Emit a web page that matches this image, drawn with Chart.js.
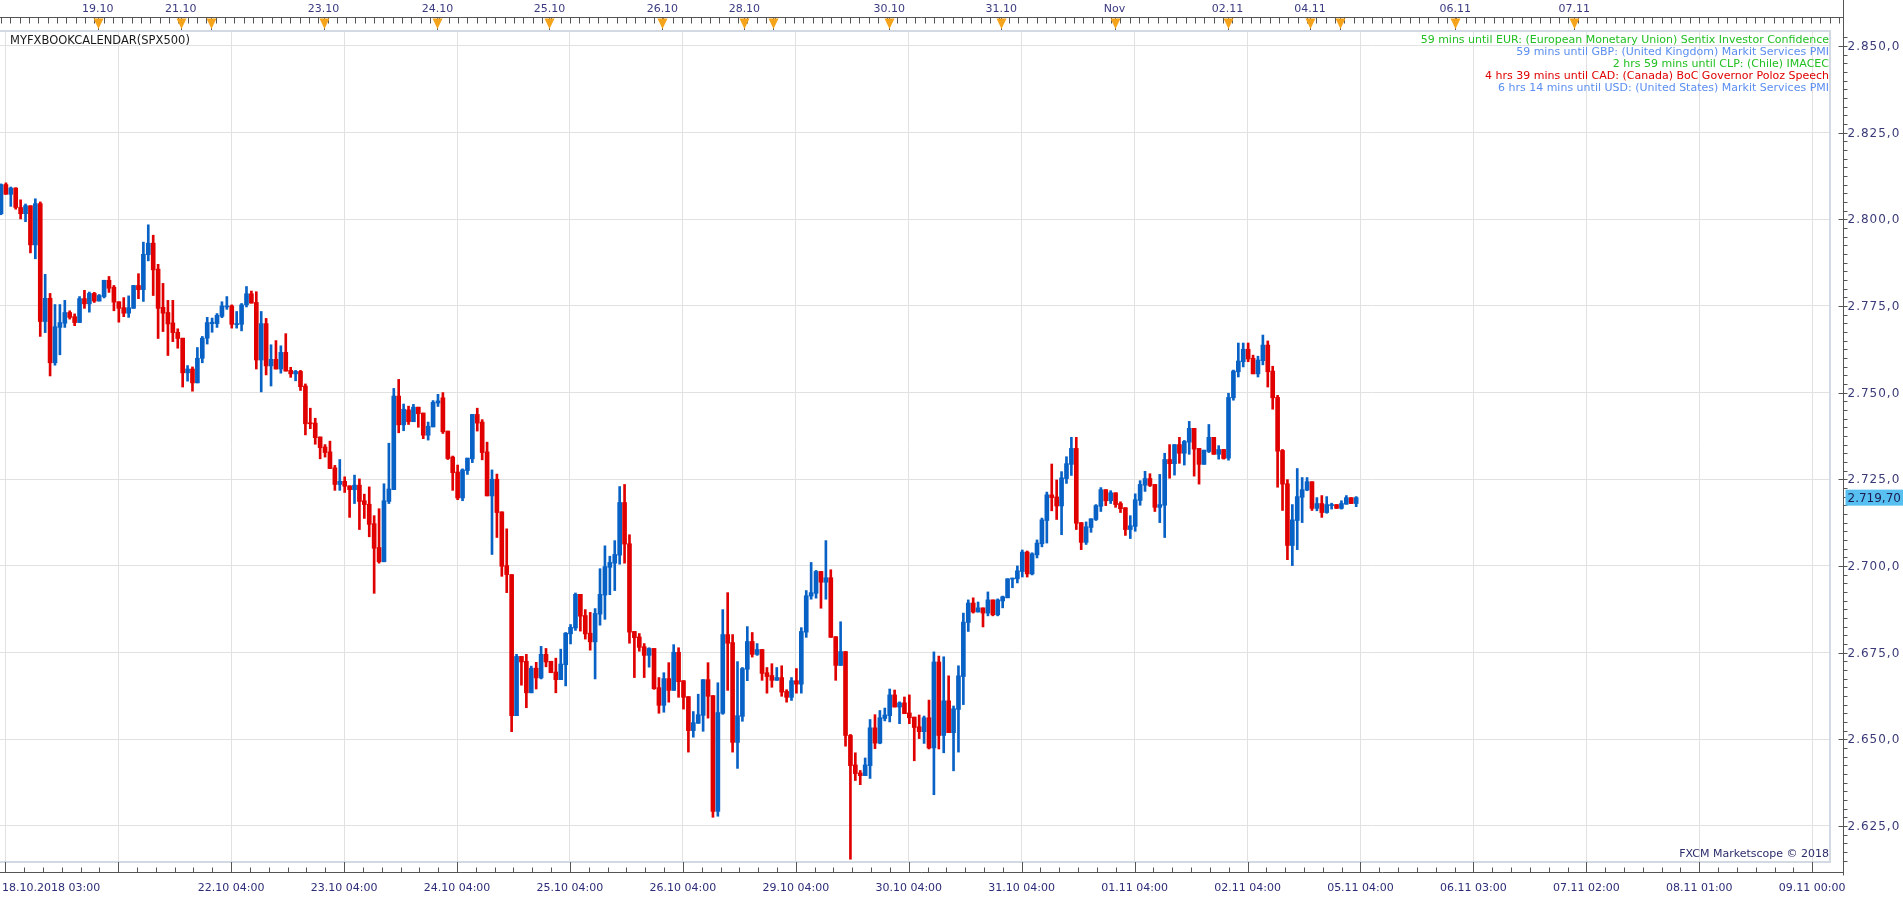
<!DOCTYPE html>
<html>
<head>
<meta charset="utf-8">
<title>SPX500 H1</title>
<script src="https://cdn.jsdelivr.net/npm/chart.js@4.4.1/dist/chart.umd.min.js"></script>
<style>
  html, body { margin: 0; padding: 0; background: #ffffff; }
  canvas { display: block; }
</style>
</head>
<body>
<canvas id="chart" width="1903" height="900"></canvas>
<script>
// hourly candles, SPX500, 18.10.2018 -> 05.11.2018
const opens = [2801.6,2810.0,2807.2,2809.0,2803.4,2801.6,2803.9,2792.6,2804.5,2770.5,2777.2,2758.6,2768.8,2770.0,2773.1,2771.9,2770.2,2777.1,2775.6,2778.6,
  2776.4,2777.7,2782.4,2780.4,2776.2,2774.5,2772.9,2774.3,2780.9,2779.7,2789.8,2793.1,2785.6,2774.6,2773.1,2770.1,2767.4,2765.7,2755.7,2756.8,
  2752.8,2759.9,2765.7,2769.9,2769.9,2772.0,2774.7,2775.0,2769.6,2769.7,2775.3,2778.5,2776.0,2759.4,2769.9,2757.7,2759.6,2756.8,2761.6,2756.4,
  2755.4,2756.1,2751.9,2741.3,2741.2,2737.2,2734.3,2732.9,2728.3,2723.5,2724.4,2723.1,2722.0,2723.3,2718.8,2717.8,2712.2,2705.3,2701.2,2718.6,
  2722.0,2749.0,2740.7,2745.0,2741.6,2745.8,2744.1,2737.7,2740.1,2747.0,2748.5,2738.9,2731.4,2727.1,2719.6,2727.5,2730.9,2743.7,2741.5,2732.9,
  2720.2,2725.0,2715.6,2700.1,2697.5,2656.8,2673.9,2672.5,2663.4,2670.5,2667.7,2674.5,2672.5,2669.4,2667.2,2671.5,2680.4,2682.1,2691.8,2685.7,
  2680.6,2678.1,2686.1,2691.6,2699.6,2700.8,2703.1,2718.3,2706.4,2681.1,2679.5,2676.7,2674.2,2676.2,2664.9,2659.8,2667.5,2664.1,2675.1,2666.9,
  2662.3,2652.5,2654.6,2656.9,2667.2,2662.6,2629.2,2657.5,2680.2,2677.9,2649.1,2656.6,2670.2,2678.2,2674.5,2675.9,2669.2,2668.4,2667.0,2667.8,
  2663.8,2662.1,2666.9,2665.9,2680.9,2691.3,2692.1,2698.4,2695.3,2696.6,2679.6,2671.3,2675.3,2651.1,2642.6,2640.3,2639.5,2642.4,2653.3,2648.9,
  2656.0,2656.8,2662.8,2659.3,2660.5,2657.6,2656.4,2653.6,2652.2,2656.2,2647.5,2672.3,2651.1,2661.1,2651.9,2658.6,2668.1,2683.7,2689.3,2686.7,
  2687.9,2686.4,2690.2,2685.9,2689.9,2690.8,2696.2,2696.3,2698.4,2704.0,2697.7,2703.2,2706.4,2713.1,2720.5,2719.9,2717.3,2725.2,2729.3,2733.9,
  2712.5,2706.8,2711.1,2713.4,2717.2,2722.0,2718.8,2721.1,2718.0,2716.8,2710.5,2711.4,2718.9,2723.3,2725.2,2723.5,2716.9,2717.5,2730.7,2729.5,
  2735.0,2732.5,2735.7,2739.7,2733.9,2729.3,2733.0,2737.1,2732.2,2733.6,2731.1,2748.5,2756.0,2758.9,2762.5,2759.9,2755.4,2759.2,2763.7,2756.2,
  2748.6,2733.3,2723.7,2705.9,2713.1,2719.8,2721.9,2724.3,2716.6,2718.0,2715.4,2717.4,2717.7,2716.6,2717.8,2719.7,2718.0];
const highs = [2810.2,2810.5,2809.3,2809.1,2805.6,2804.4,2803.9,2805.9,2805.0,2784.1,2778.6,2775.4,2775.4,2776.6,2773.6,2772.7,2777.7,2779.5,2779.0,2778.9,
  2778.3,2782.4,2783.5,2780.9,2776.2,2777.4,2777.9,2780.9,2784.3,2793.4,2798.4,2795.4,2787.0,2781.5,2776.6,2776.6,2768.4,2765.7,2757.8,2757.4,
  2763.0,2766.2,2771.7,2771.5,2772.8,2776.2,2777.7,2775.3,2773.4,2775.7,2780.6,2779.3,2779.1,2773.4,2771.4,2763.8,2765.0,2763.5,2767.0,2757.3,
  2756.4,2756.4,2752.5,2745.5,2742.6,2737.2,2735.0,2736.0,2729.0,2730.7,2725.7,2723.1,2726.2,2725.1,2720.7,2722.8,2714.5,2716.5,2723.7,2735.4,
  2751.2,2753.8,2746.7,2746.1,2746.6,2745.8,2744.1,2741.5,2747.7,2749.5,2750.0,2738.9,2731.7,2729.1,2728.0,2731.1,2743.7,2745.5,2742.2,2735.7,
  2727.7,2726.5,2715.6,2710.7,2697.5,2674.5,2673.9,2674.5,2671.1,2672.2,2676.8,2676.2,2672.5,2673.4,2676.0,2680.8,2683.1,2692.2,2691.8,2687.4,
  2686.6,2687.7,2699.2,2705.8,2702.8,2707.3,2722.9,2723.5,2709.0,2681.1,2680.5,2677.6,2676.4,2676.2,2667.8,2669.2,2672.1,2677.3,2676.4,2666.9,
  2662.3,2658.0,2663.0,2667.2,2672.1,2662.6,2666.3,2687.4,2692.3,2680.2,2672.4,2670.7,2682.5,2680.8,2677.6,2675.9,2670.7,2671.8,2670.7,2671.2,
  2664.3,2667.8,2670.4,2682.2,2692.9,2701.0,2698.7,2698.4,2707.3,2698.9,2679.6,2683.9,2675.3,2651.4,2646.1,2641.0,2644.6,2655.7,2657.1,2658.3,
  2659.0,2664.5,2664.2,2660.8,2662.2,2662.8,2656.4,2657.0,2656.7,2661.3,2675.2,2674.0,2673.8,2668.3,2659.6,2671.2,2686.4,2690.2,2690.8,2689.6,
  2687.9,2692.5,2690.2,2690.5,2691.3,2696.3,2696.5,2700.0,2704.6,2704.3,2703.8,2707.5,2713.8,2721.3,2729.4,2724.8,2727.2,2731.5,2737.1,2737.1,
  2712.5,2712.7,2713.6,2717.7,2722.6,2722.0,2721.7,2721.1,2718.5,2716.8,2714.5,2720.8,2724.6,2727.3,2726.6,2723.5,2726.4,2732.5,2735.0,2735.0,
  2737.1,2736.2,2741.7,2739.7,2733.9,2733.4,2740.8,2737.1,2734.7,2733.6,2749.8,2756.5,2764.3,2764.3,2764.3,2760.8,2760.5,2766.6,2764.9,2757.6,
  2749.2,2733.6,2724.9,2717.7,2728.1,2725.5,2725.5,2724.3,2719.7,2720.3,2720.0,2718.1,2717.7,2718.8,2720.3,2719.7,2720.0];
const lows = [2801.3,2807.2,2803.7,2802.9,2800.1,2799.3,2790.3,2788.6,2766.2,2767.3,2754.8,2757.9,2760.9,2768.8,2771.2,2769.3,2770.2,2774.3,2773.2,2776.0,
  2776.4,2777.3,2778.9,2773.6,2770.3,2771.9,2771.7,2774.3,2777.1,2776.3,2788.0,2778.0,2765.6,2767.6,2760.7,2764.7,2762.8,2751.6,2753.3,2750.4,
  2752.8,2758.6,2764.0,2767.4,2768.8,2771.6,2774.0,2768.6,2768.6,2767.8,2774.7,2775.8,2756.8,2750.2,2755.1,2751.9,2756.8,2755.6,2756.2,2754.4,
  2753.4,2750.6,2737.8,2739.6,2735.1,2730.9,2731.4,2728.1,2721.8,2721.8,2721.2,2714.0,2718.0,2710.5,2713.7,2708.4,2692.1,2700.8,2701.2,2718.0,
  2722.0,2738.4,2739.0,2740.8,2741.6,2740.0,2736.7,2736.3,2740.1,2746.0,2738.2,2730.7,2721.8,2719.1,2718.8,2726.4,2729.8,2738.9,2730.6,2720.2,
  2703.3,2708.2,2697.0,2692.3,2652.2,2656.8,2665.6,2659.1,2663.4,2664.5,2667.4,2670.9,2669.2,2663.4,2667.2,2665.4,2677.5,2681.4,2681.2,2678.9,
  2675.7,2667.4,2682.9,2684.6,2691.7,2692.9,2700.5,2700.8,2677.7,2667.8,2675.4,2667.8,2670.8,2664.4,2657.5,2657.8,2660.7,2664.1,2662.1,2658.7,
  2646.3,2650.6,2654.6,2652.3,2656.1,2627.5,2627.8,2657.2,2664.1,2646.3,2641.6,2655.2,2666.9,2673.7,2674.2,2667.0,2663.3,2665.0,2667.0,2662.4,
  2660.7,2661.2,2663.3,2663.3,2679.4,2690.4,2690.7,2687.8,2690.4,2679.4,2667.0,2671.3,2648.0,2615.4,2638.1,2636.9,2639.5,2638.7,2647.3,2648.7,
  2655.3,2655.0,2659.3,2654.5,2657.4,2654.5,2643.8,2650.2,2648.8,2647.2,2634.0,2647.2,2646.1,2651.9,2640.9,2646.3,2660.0,2681.1,2686.4,2686.7,
  2682.4,2685.6,2685.6,2685.6,2687.9,2690.8,2693.7,2695.1,2696.8,2696.8,2697.4,2702.3,2705.5,2706.6,2715.9,2713.4,2709.0,2723.8,2726.1,2710.5,
  2704.7,2706.2,2709.7,2713.1,2715.7,2717.4,2718.0,2716.9,2715.4,2708.8,2707.9,2710.0,2717.5,2721.5,2722.9,2715.7,2712.5,2708.2,2725.3,2726.2,
  2729.6,2729.1,2732.2,2725.9,2723.6,2729.3,2732.7,2732.2,2730.8,2730.8,2730.5,2747.8,2754.5,2757.4,2758.9,2755.4,2754.5,2758.0,2751.6,2745.2,
  2722.7,2716.0,2701.8,2700.1,2704.7,2712.5,2721.7,2716.0,2715.9,2714.0,2715.2,2716.4,2716.6,2716.4,2717.8,2718.0,2717.1];
const closes = [2810.0,2807.2,2809.0,2803.4,2801.6,2803.9,2792.6,2804.5,2770.5,2777.2,2758.6,2769.0,2770.2,2773.1,2771.7,2770.2,2777.1,2775.6,2778.6,2776.4,
  2778.0,2782.4,2780.1,2776.1,2774.3,2772.9,2774.5,2780.9,2779.7,2789.9,2793.1,2785.4,2774.3,2772.9,2769.8,2767.3,2765.6,2755.7,2756.8,2752.8,
  2759.9,2765.7,2770.2,2770.3,2772.3,2775.0,2775.0,2769.7,2769.9,2775.3,2778.5,2775.8,2759.4,2769.9,2757.7,2759.6,2756.8,2761.6,2756.2,2755.4,
  2756.1,2751.7,2741.0,2741.0,2737.0,2734.1,2732.7,2728.1,2723.5,2724.4,2723.0,2722.0,2723.3,2718.6,2717.7,2712.0,2705.1,2701.2,2718.8,2722.2,
  2749.0,2740.7,2745.2,2741.6,2745.8,2743.9,2737.7,2740.3,2747.2,2747.6,2738.7,2731.0,2726.9,2719.6,2727.7,2731.1,2743.7,2741.2,2732.7,2720.2,
  2725.0,2715.4,2699.9,2697.5,2656.8,2673.9,2672.3,2663.4,2670.5,2667.7,2674.5,2672.3,2669.2,2667.2,2671.7,2680.6,2682.3,2691.8,2685.5,2680.4,
  2678.1,2686.3,2691.8,2699.8,2701.0,2703.3,2718.3,2706.3,2680.9,2679.3,2676.5,2674.2,2676.2,2664.6,2659.8,2667.5,2664.1,2675.1,2666.6,2662.1,
  2652.5,2654.8,2657.1,2667.2,2662.4,2629.2,2657.7,2680.2,2677.7,2649.1,2656.8,2670.4,2678.2,2674.5,2675.9,2669.0,2668.1,2667.0,2667.8,2663.6,
  2662.1,2666.9,2665.9,2681.1,2691.4,2692.3,2698.4,2695.3,2696.6,2679.4,2671.3,2675.3,2651.1,2642.4,2640.1,2639.5,2642.6,2653.3,2648.9,2656.2,
  2657.0,2662.8,2659.3,2660.5,2657.4,2656.2,2653.4,2652.2,2656.2,2647.5,2672.3,2651.1,2661.1,2651.9,2658.8,2668.3,2683.8,2689.3,2686.7,2687.9,
  2686.4,2690.2,2685.9,2690.2,2691.1,2696.3,2696.5,2698.6,2704.0,2697.7,2703.5,2706.6,2713.3,2720.5,2719.7,2717.3,2725.4,2729.5,2733.9,2712.3,
  2706.8,2711.3,2713.6,2717.4,2722.0,2718.8,2721.1,2717.7,2716.5,2710.5,2711.6,2719.1,2723.5,2725.2,2723.2,2716.9,2717.7,2730.7,2729.5,2735.0,
  2732.5,2735.9,2739.7,2733.7,2729.3,2733.4,2737.1,2732.2,2733.6,2731.0,2748.6,2756.2,2759.1,2762.5,2759.7,2755.4,2759.4,2763.7,2756.0,2748.5,
  2733.1,2723.6,2705.9,2713.3,2720.0,2722.0,2724.3,2716.6,2718.0,2715.4,2717.7,2717.7,2716.6,2718.0,2719.7,2718.0,2719.7];

// day separators (in candle index units) and their bottom labels
const dayLines = [0.875, 23.875, 46.875, 69.875, 92.875, 115.875, 138.875, 161.875, 184.875, 207.875, 230.875, 253.875, 276.875, 299.875, 322.875, 345.875, 368.875];
const dayLabels = ['18.10.2018 03:00', '', '22.10 04:00', '23.10 04:00', '24.10 04:00', '25.10 04:00', '26.10 04:00', '29.10 04:00',
  '30.10 04:00', '31.10 04:00', '01.11 04:00', '02.11 04:00', '05.11 04:00', '06.11 03:00', '07.11 02:00', '08.11 01:00', '09.11 00:00'];

// calendar event markers on the top strip
const eventPos = [19.7, 36.6, 42.7, 65.7, 88.9, 111.7, 134.7, 151.4, 157.3, 180.9, 203.7, 226.8, 249.8, 266.6, 272.7, 296.2, 320.4];
const eventLabels = ['19.10', '21.10', '', '23.10', '24.10', '25.10', '26.10', '28.10', '', '30.10', '31.10', 'Nov', '02.11', '04.11', '', '06.11', '07.11'];

const upcoming = [
  ['59 mins until EUR: (European Monetary Union) Sentix Investor Confidence', '#22c022'],
  ['59 mins until GBP: (United Kingdom) Markit Services PMI', '#5b8ef0'],
  ['2 hrs 59 mins until CLP: (Chile) IMACEC', '#22c022'],
  ['4 hrs 39 mins until CAD: (Canada) BoC Governor Poloz Speech', '#e00000'],
  ['6 hrs 14 mins until USD: (United States) Markit Services PMI', '#5b8ef0']
];

const priceTicks = [2625, 2650, 2675, 2700, 2725, 2750, 2775, 2800, 2825, 2850];

const UP = '#0862c6';
const DOWN = '#e00000';
const FONT = '"DejaVu Sans", Verdana, sans-serif';

function candleColor(ctx) {
    const i = ctx.dataIndex;
    return closes[i] >= opens[i] ? UP : DOWN;
}

function fmtPrice(v, digits) {
    const th = Math.floor(v / 1000);
    const rest = (v - th * 1000).toFixed(digits).padStart(4 + digits, '0');
    return th + '.' + rest.replace('.', ',');
}

const axesPlugin = {
    id: 'axesPlugin',
    afterDraw(chart) {
        const ctx = chart.ctx;
        const xs = chart.scales.x;
        const ys = chart.scales.y;
        const a = chart.chartArea;
        const axisX = 1843.5;
        const bottomY = 872.5;
        const topY = 17.5;

        ctx.save();

        // light frame round the plot
        ctx.strokeStyle = '#d2d9e2';
        ctx.lineWidth = 2;
        ctx.beginPath();
        ctx.moveTo(0, a.top);
        ctx.lineTo(a.right, a.top);
        ctx.lineTo(a.right, a.bottom);
        ctx.lineTo(0, a.bottom);
        ctx.stroke();

        // right price axis
        ctx.strokeStyle = '#555555';
        ctx.lineWidth = 1;
        ctx.beginPath();
        ctx.moveTo(axisX, 0);
        ctx.lineTo(axisX, bottomY + 3);
        for (let v = 2615; v <= 2852.5; v += 2.5) {
            const y = Math.round(ys.getPixelForValue(v)) + 0.5;
            if (y < a.top - 25 || y > a.bottom) continue;
            const major = Math.abs(v % 25) < 0.01;
            ctx.moveTo(major ? axisX - 5 : axisX, y);
            ctx.lineTo(axisX + 4, y);
        }
        ctx.stroke();

        ctx.fillStyle = '#3a3a78';
        ctx.font = '12px ' + FONT;
        ctx.textAlign = 'left';
        ctx.textBaseline = 'middle';
        ctx.letterSpacing = '1px';
        priceTicks.forEach(v => {
            ctx.fillText(fmtPrice(v, 1), axisX + 4, ys.getPixelForValue(v) + 1);
        });
        ctx.letterSpacing = '0px';

        // last price box
        const last = closes[closes.length - 1];
        const ly = ys.getPixelForValue(last);
        ctx.fillStyle = '#58c0f0';
        ctx.fillRect(axisX + 2, ly - 8, 1903 - axisX, 16);
        ctx.fillStyle = '#1c1c50';
        ctx.font = '12px ' + FONT;
        ctx.fillText(fmtPrice(last, 2), axisX + 4, ly + 1);

        // bottom time axis
        ctx.strokeStyle = '#555555';
        ctx.beginPath();
        ctx.moveTo(0, bottomY);
        ctx.lineTo(axisX, bottomY);
        for (let d = dayLines[0] - 23; d <= dayLines[dayLines.length - 1] + 23; d += 23 / 6) {
            const x = Math.round(xs.getPixelForValue(d)) + 0.5;
            if (x < 0 || x > a.right) continue;
            const major = dayLines.some(p => Math.abs(p - d) < 0.01);
            ctx.moveTo(x, major ? a.bottom : bottomY - 5);
            ctx.lineTo(x, bottomY);
        }
        ctx.stroke();

        ctx.fillStyle = '#2c2c78';
        ctx.font = '11px ' + FONT;
        ctx.textBaseline = 'middle';
        dayLabels.forEach((t, k) => {
            if (!t) return;
            if (k === 0) {
                ctx.textAlign = 'left';
                ctx.fillText(t, 2, 888);
            } else {
                ctx.textAlign = 'center';
                ctx.fillText(t, xs.getPixelForValue(dayLines[k]), 888);
            }
        });

        // top calendar strip
        ctx.strokeStyle = '#555555';
        ctx.beginPath();
        ctx.moveTo(0, topY);
        ctx.lineTo(axisX, topY);
        for (let i = 0; i < 380; i += 1.9) {
            const x = Math.round(xs.getPixelForValue(i)) + 0.5;
            if (x > axisX - 3) break;
            ctx.moveTo(x, topY);
            ctx.lineTo(x, topY + 6);
        }
        eventPos.forEach(p => {
            const x = Math.round(xs.getPixelForValue(p)) + 0.5;
            ctx.moveTo(x, topY);
            ctx.lineTo(x, a.top - 1);
        });
        ctx.stroke();

        ctx.fillStyle = '#f5a31a';
        eventPos.forEach(p => {
            const x = Math.round(xs.getPixelForValue(p)) + 0.5;
            ctx.beginPath();
            ctx.moveTo(x - 5, topY + 1);
            ctx.lineTo(x + 5, topY + 1);
            ctx.lineTo(x, topY + 11.5);
            ctx.closePath();
            ctx.fill();
        });

        ctx.fillStyle = '#3a3a80';
        ctx.font = '11px ' + FONT;
        ctx.textAlign = 'center';
        eventLabels.forEach((t, k) => {
            if (t) ctx.fillText(t, xs.getPixelForValue(eventPos[k]), 9);
        });

        // texts inside the plot
        ctx.fillStyle = '#1a1a1a';
        ctx.textAlign = 'left';
        ctx.font = '11.5px ' + FONT;
        ctx.fillText('MYFXBOOKCALENDAR(SPX500)', 10, 41);

        ctx.font = '11px ' + FONT;
        ctx.textAlign = 'right';
        upcoming.forEach((u, k) => {
            ctx.fillStyle = u[1];
            ctx.fillText(u[0], a.right - 1, 40 + k * 12);
        });

        ctx.fillStyle = '#2c2c6c';
        ctx.fillText('FXCM Marketscope \u00a9 2018', a.right - 1, 854);

        ctx.restore();
    }
};

document.addEventListener('DOMContentLoaded', () => {
    const canvas = document.getElementById('chart');

    const wicks = lows.map((l, i) => ({ x: i, y: [l, highs[i]] }));
    const bodies = opens.map((o, i) => ({ x: i, y: [o, closes[i]] }));

    new Chart(canvas, {
        type: 'bar',
        data: {
            datasets: [{
                label: 'body',
                data: bodies,
                backgroundColor: candleColor,
                barThickness: 4,
                minBarLength: 1,
                grouped: false,
                borderWidth: 0
            }, {
                label: 'wick',
                data: wicks,
                backgroundColor: candleColor,
                barThickness: 2,
                minBarLength: 1,
                grouped: false,
                borderWidth: 0
            }]
        },
        options: {
            responsive: false,
            animation: false,
            devicePixelRatio: 1,
            layout: { padding: { left: 0, right: 73, top: 31, bottom: 38 } },
            plugins: {
                legend: { display: false },
                tooltip: { enabled: false }
            },
            scales: {
                x: {
                    type: 'linear',
                    min: -0.2,
                    max: 372.5,
                    offset: false,
                    grid: { color: '#e1e1e1', offset: false, drawTicks: false },
                    border: { display: false },
                    ticks: { display: false },
                    afterBuildTicks: s => { s.ticks = dayLines.map(v => ({ value: v })); },
                    afterFit: s => { s.height = 0; }
                },
                y: {
                    type: 'linear',
                    position: 'right',
                    min: 2614.6,
                    max: 2854.3,
                    beginAtZero: false,
                    grid: { color: '#e1e1e1', drawTicks: false },
                    border: { display: false },
                    ticks: { display: false },
                    afterBuildTicks: s => { s.ticks = priceTicks.map(v => ({ value: v })); },
                    afterFit: s => { s.width = 0; }
                }
            }
        },
        plugins: [axesPlugin]
    });
});
</script>
</body>
</html>
